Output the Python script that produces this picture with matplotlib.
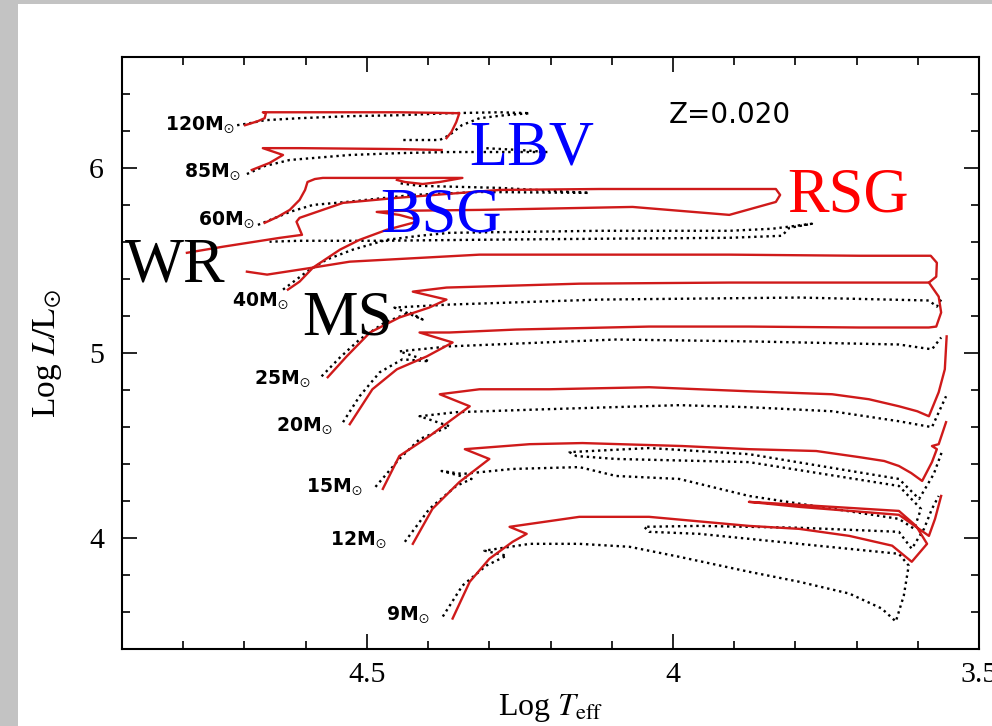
import matplotlib
matplotlib.use("Agg")
import matplotlib.pyplot as plt
from matplotlib.patches import Rectangle
from matplotlib.ticker import MultipleLocator, FuncFormatter

plt.rcParams["mathtext.fontset"] = "stix"
plt.rcParams["font.family"] = ["Liberation Serif", "DejaVu Serif"]

# ---- evolutionary tracks (log Teff, log L/Lsun); rot = solid red, norot = dotted black ----
m120_rot_logt = [4.699, 4.678, 4.667, 4.665, 4.670, 4.610, 4.447, 4.349, 4.354, 4.362, 4.370]
m120_rot_logl = [6.233, 6.255, 6.271, 6.298, 6.303, 6.303, 6.303, 6.298, 6.250, 6.196, 6.163]
m120_norot_logt = [4.712, 4.691, 4.667, 4.610, 4.528, 4.447, 4.365, 4.283, 4.234, 4.275, 4.316,
                   4.345, 4.365, 4.381, 4.414, 4.442]
m120_norot_logl = [6.233, 6.244, 6.260, 6.271, 6.282, 6.287, 6.298, 6.303, 6.298, 6.287, 6.271,
                   6.233, 6.180, 6.153, 6.153, 6.153]

m85_rot_logt = [4.688, 4.659, 4.637, 4.670, 4.610, 4.447, 4.378]
m85_rot_logl = [5.991, 6.029, 6.072, 6.109, 6.109, 6.104, 6.099]
m85_norot_logt = [4.696, 4.667, 4.626, 4.528, 4.447, 4.365, 4.283, 4.205, 4.251, 4.308]
m85_norot_logl = [5.969, 6.012, 6.045, 6.072, 6.082, 6.088, 6.088, 6.088, 6.099, 6.109]

m60_rot_logt = [4.667, 4.646, 4.626, 4.610, 4.601, 4.597, 4.585, 4.572, 4.447, 4.344, 4.381,
                4.409, 4.438, 4.451]
m60_rot_logl = [5.705, 5.737, 5.775, 5.829, 5.883, 5.926, 5.942, 5.948, 5.948, 5.948, 5.926,
                5.915, 5.926, 5.937]
m60_norot_logt = [4.678, 4.626, 4.588, 4.533, 4.425, 4.316, 4.137, 4.283, 4.414, 4.450]
m60_norot_logl = [5.694, 5.764, 5.802, 5.818, 5.856, 5.872, 5.867, 5.894, 5.905, 5.921]

m40_rot_logt = [4.629, 4.610, 4.588, 4.544, 4.512, 4.468, 4.425, 4.417, 4.447, 4.484, 4.447,
                4.316, 4.066, 3.908, 3.832, 3.825, 3.832, 3.908, 4.120, 4.283, 4.370, 4.451,
                4.539, 4.610, 4.615, 4.606, 4.642, 4.735, 4.794]
m40_rot_logl = [5.344, 5.387, 5.463, 5.560, 5.613, 5.667, 5.705, 5.721, 5.748, 5.764, 5.770,
                5.775, 5.791, 5.748, 5.818, 5.856, 5.888, 5.888, 5.888, 5.883, 5.861, 5.840,
                5.813, 5.732, 5.711, 5.640, 5.624, 5.576, 5.543]
m40_norot_logt = [4.637, 4.598, 4.566, 4.523, 4.468, 4.414, 4.365, 4.120, 3.908, 3.838, 3.773,
                  3.810, 3.822, 3.908, 4.120, 4.332, 4.479, 4.610, 4.659]
m40_norot_logl = [5.344, 5.441, 5.506, 5.560, 5.613, 5.635, 5.651, 5.662, 5.662, 5.673, 5.700,
                  5.678, 5.635, 5.624, 5.619, 5.613, 5.608, 5.608, 5.603]

m25_rot_logt = [4.564, 4.533, 4.495, 4.447, 4.398, 4.370, 4.425, 4.370, 4.153, 3.908, 3.582,
                3.570, 3.569, 3.579, 3.696, 3.908, 4.316, 4.528, 4.588, 4.663, 4.696]
m25_rot_logl = [4.870, 4.983, 5.112, 5.193, 5.247, 5.290, 5.333, 5.355, 5.376, 5.382, 5.382,
                5.414, 5.489, 5.527, 5.527, 5.533, 5.533, 5.495, 5.463, 5.425, 5.441]
m25_norot_logt = [4.574, 4.544, 4.512, 4.471, 4.430, 4.409, 4.455, 4.365, 4.120, 3.794, 3.582,
                  3.569, 3.562]
m25_norot_logl = [4.875, 4.977, 5.074, 5.166, 5.220, 5.182, 5.247, 5.263, 5.290, 5.301, 5.285,
                  5.252, 5.290]

m20_rot_logt = [4.528, 4.491, 4.451, 4.402, 4.360, 4.414, 4.365, 4.256, 4.039, 3.876, 3.696,
                3.582, 3.570, 3.562, 3.566, 3.582]
m20_rot_logl = [4.616, 4.805, 4.913, 4.983, 5.058, 5.112, 5.112, 5.128, 5.144, 5.144, 5.139,
                5.139, 5.144, 5.220, 5.306, 5.382]
m20_norot_logt = [4.539, 4.512, 4.479, 4.442, 4.398, 4.447, 4.365, 4.093, 3.876, 3.631, 3.577,
                  3.562]
m20_norot_logl = [4.627, 4.767, 4.897, 4.967, 4.956, 5.010, 5.037, 5.074, 5.064, 5.047, 5.021,
                  5.085]

m15_rot_logt = [4.474, 4.447, 4.398, 4.332, 4.381, 4.316, 4.202, 4.039, 3.876, 3.740, 3.680,
                3.631, 3.601, 3.582, 3.566, 3.556, 3.553]
m15_rot_logl = [4.266, 4.444, 4.551, 4.713, 4.778, 4.805, 4.805, 4.816, 4.794, 4.778, 4.751,
                4.713, 4.686, 4.659, 4.789, 4.913, 5.091]
m15_norot_logt = [4.486, 4.447, 4.414, 4.365, 4.414, 4.354, 4.207, 3.990, 3.876, 3.740, 3.631,
                  3.577, 3.554]
m15_norot_logl = [4.277, 4.428, 4.535, 4.605, 4.659, 4.681, 4.697, 4.719, 4.708, 4.686, 4.632,
                  4.600, 4.767]

m12_rot_logt = [4.425, 4.393, 4.349, 4.300, 4.340, 4.234, 4.148, 3.985, 3.876, 3.766, 3.696,
                3.655, 3.631, 3.611, 3.593, 3.577, 3.569, 3.577, 3.566, 3.554]
m12_rot_logl = [3.969, 4.158, 4.303, 4.428, 4.481, 4.508, 4.514, 4.498, 4.481, 4.471, 4.438,
                4.417, 4.390, 4.352, 4.309, 4.411, 4.481, 4.498, 4.508, 4.627]
m12_norot_logt = [4.438, 4.398, 4.354, 4.329, 4.378, 4.344, 4.262, 4.153, 4.093, 3.990, 3.876,
                  3.631, 3.606, 3.595, 3.631, 3.876, 4.093, 4.158, 4.169, 4.039, 3.876, 3.631,
                  3.598, 3.574, 3.561]
m12_norot_logl = [3.980, 4.158, 4.282, 4.320, 4.363, 4.347, 4.374, 4.384, 4.336, 4.320, 4.228,
                  4.104, 4.050, 4.158, 4.282, 4.411, 4.428, 4.444, 4.465, 4.487, 4.454, 4.320,
                  4.212, 4.347, 4.465]

m9_rot_logt = [4.360, 4.332, 4.300, 4.262, 4.239, 4.267, 4.153, 4.039, 3.876, 3.794, 3.712,
               3.642, 3.610, 3.585, 3.603, 3.631, 3.794, 3.876, 3.794, 3.631, 3.582, 3.572, 3.562]
m9_rot_logl = [3.565, 3.764, 3.888, 3.980, 4.023, 4.061, 4.115, 4.115, 4.066, 4.050, 4.012,
               3.959, 3.872, 3.969, 4.066, 4.147, 4.180, 4.196, 4.169, 4.126, 4.012, 4.104, 4.228]
m9_norot_logt = [4.376, 4.344, 4.305, 4.272, 4.308, 4.288, 4.234, 4.153, 4.071, 3.990, 3.876,
                 3.794, 3.712, 3.659, 3.636, 3.623, 3.615, 3.631, 3.794, 3.957, 4.039, 4.047,
                 3.957, 3.794, 3.631, 3.610, 3.590, 3.577, 3.566]
m9_norot_logl = [3.576, 3.743, 3.851, 3.905, 3.932, 3.942, 3.969, 3.969, 3.953, 3.899, 3.818,
                 3.764, 3.700, 3.619, 3.549, 3.689, 3.851, 3.915, 3.969, 4.023, 4.034, 4.061,
                 4.066, 4.056, 4.034, 3.942, 4.050, 4.158, 4.228]

# initial-mass labels next to the zero-age main sequence
mass_names = ["120", "85", "60", "40", "25", "20", "15", "12", "9"]
mass_label_logt = [4.717, 4.706, 4.683, 4.628, 4.592, 4.556, 4.507, 4.468, 4.398]
mass_label_logl = [6.206, 5.953, 5.694, 5.252, 4.832, 4.578, 4.250, 3.959, 3.554]

# evolutionary phase labels
phase_names = ["WR", "MS", "LBV", "BSG", "RSG"]
phase_colors = ["black", "black", "#0000ff", "#0000ff", "#ff0000"]
phase_logt = [4.895, 4.605, 4.332, 4.479, 3.814]
phase_logl = [5.387, 5.101, 6.018, 5.657, 5.764]

x_ticks = [4.5, 4.0, 3.5]
y_ticks = [4, 5, 6]

norot_tracks = [
    (m120_norot_logt, m120_norot_logl), (m85_norot_logt, m85_norot_logl),
    (m60_norot_logt, m60_norot_logl), (m40_norot_logt, m40_norot_logl),
    (m25_norot_logt, m25_norot_logl), (m20_norot_logt, m20_norot_logl),
    (m15_norot_logt, m15_norot_logl), (m12_norot_logt, m12_norot_logl),
    (m9_norot_logt, m9_norot_logl),
]
rot_tracks = [
    (m120_rot_logt, m120_rot_logl), (m85_rot_logt, m85_rot_logl),
    (m60_rot_logt, m60_rot_logl), (m40_rot_logt, m40_rot_logl),
    (m25_rot_logt, m25_rot_logl), (m20_rot_logt, m20_rot_logl),
    (m15_rot_logt, m15_rot_logl), (m12_rot_logt, m12_rot_logl),
    (m9_rot_logt, m9_rot_logl),
]

fig = plt.figure(figsize=(9.92, 7.26), dpi=100)
fig.patch.set_facecolor("#c3c3c3")
# white page, leaving a grey margin at the left and top
page = Rectangle((0.018, 0.0), 1.0, 0.994, transform=fig.transFigure,
                 facecolor="white", edgecolor="none", zorder=-10)
fig.add_artist(page)

ax = fig.add_axes([0.123, 0.106, 0.864, 0.815])
ax.set_zorder(1)
ax.set_facecolor("white")

for t, l in norot_tracks:
    ax.plot(t, l, color="black", lw=1.7, ls=(0, (1, 1.6)), dash_capstyle="butt", zorder=2)
for t, l in rot_tracks:
    ax.plot(t, l, color="#cf1a1a", lw=1.7, solid_joinstyle="round", zorder=3)

for name, t, l in zip(mass_names, mass_label_logt, mass_label_logl):
    ax.text(t, l, name + r"M$_{\odot}$", ha="right", va="baseline", fontsize=13.5,
            fontweight="bold", family="DejaVu Sans", zorder=4)

for name, c, t, l in zip(phase_names, phase_colors, phase_logt, phase_logl):
    ax.text(t, l, name, color=c, ha="left", va="baseline", fontsize=45,
            family="Liberation Serif", zorder=5)

ax.text(4.007, 6.244, "Z=0.020", ha="left", va="baseline", fontsize=20,
        family="DejaVu Sans", zorder=4)

ax.set_xlim(4.9, 3.5)
ax.set_ylim(3.4, 6.6)
ax.set_xticks(x_ticks)
ax.set_yticks(y_ticks)
ax.xaxis.set_minor_locator(MultipleLocator(0.1))
ax.yaxis.set_minor_locator(MultipleLocator(0.2))
fmt = FuncFormatter(lambda v, p: f"{v:g}")
ax.xaxis.set_major_formatter(fmt)
ax.yaxis.set_major_formatter(fmt)
ax.tick_params(which="both", direction="in", top=True, right=True, width=1.2, color="black")
ax.tick_params(which="major", length=11)
ax.tick_params(which="minor", length=5.5)
ax.tick_params(axis="x", which="major", pad=9, labelsize=21.5)
ax.tick_params(axis="y", which="major", pad=13, labelsize=21.5)
for s in ax.spines.values():
    s.set_linewidth(1.5)

ax.set_xlabel(r"Log $T_{\rm eff}$", fontsize=23)
ax.set_ylabel(r"Log $L/{\rm L}_{\odot}$", fontsize=24)
ax.xaxis.set_label_coords(0.5, -0.072)
ax.yaxis.set_label_coords(-0.068, 0.5)

fig.savefig("out.png", dpi=100, facecolor=fig.get_facecolor())
